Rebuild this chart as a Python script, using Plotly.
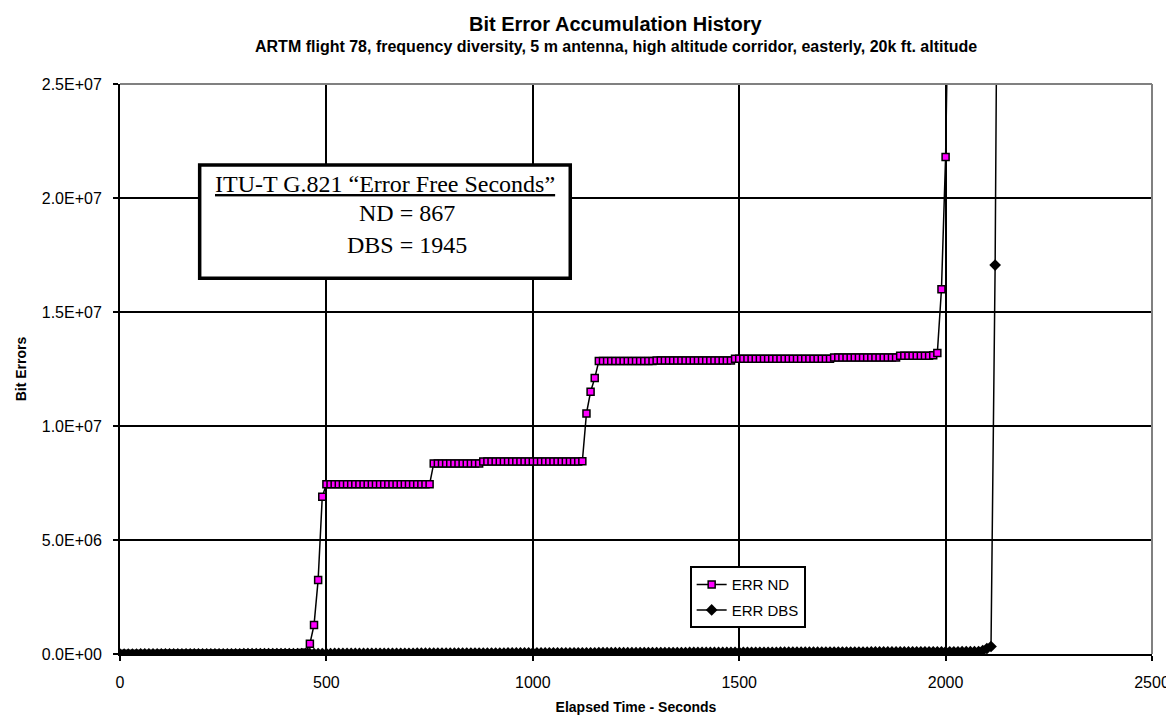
import plotly.graph_objects as go

# elapsed time in seconds (one sample every 10 s)
elapsed = [
    0, 10, 20, 30, 40, 50, 60, 70, 80, 90,
    100, 110, 120, 130, 140, 150, 160, 170, 180, 190,
    200, 210, 220, 230, 240, 250, 260, 270, 280, 290,
    300, 310, 320, 330, 340, 350, 360, 370, 380, 390,
    400, 410, 420, 430, 440, 450, 460, 470, 480, 490,
    500, 510, 520, 530, 540, 550, 560, 570, 580, 590,
    600, 610, 620, 630, 640, 650, 660, 670, 680, 690,
    700, 710, 720, 730, 740, 750, 760, 770, 780, 790,
    800, 810, 820, 830, 840, 850, 860, 870, 880, 890,
    900, 910, 920, 930, 940, 950, 960, 970, 980, 990,
    1000, 1010, 1020, 1030, 1040, 1050, 1060, 1070, 1080, 1090,
    1100, 1110, 1120, 1130, 1140, 1150, 1160, 1170, 1180, 1190,
    1200, 1210, 1220, 1230, 1240, 1250, 1260, 1270, 1280, 1290,
    1300, 1310, 1320, 1330, 1340, 1350, 1360, 1370, 1380, 1390,
    1400, 1410, 1420, 1430, 1440, 1450, 1460, 1470, 1480, 1490,
    1500, 1510, 1520, 1530, 1540, 1550, 1560, 1570, 1580, 1590,
    1600, 1610, 1620, 1630, 1640, 1650, 1660, 1670, 1680, 1690,
    1700, 1710, 1720, 1730, 1740, 1750, 1760, 1770, 1780, 1790,
    1800, 1810, 1820, 1830, 1840, 1850, 1860, 1870, 1880, 1890,
    1900, 1910, 1920, 1930, 1940, 1950, 1960, 1970, 1980, 1990,
    2000, 2010, 2020, 2030, 2040, 2050, 2060, 2070, 2080, 2090,
    2100, 2110, 2120, 2130,
]

# ERR ND - cumulative bit errors (0 .. 2010 s)
err_nd = [
    0, 0, 0, 0, 2000, 2000, 2000, 4000, 4000, 4000,
    6000, 6000, 6000, 6000, 8000, 8000, 8000, 8000, 10000, 10000,
    10000, 12000, 12000, 12000, 14000, 14000, 14000, 16000, 16000, 16000,
    18000, 18000, 18000, 20000, 20000, 22000, 22000, 24000, 24000, 26000,
    28000, 30000, 32000, 35000, 40000, 60000, 450000, 1270000, 3250000, 6900000,
    7450000, 7450000, 7450000, 7450000, 7450000, 7450000, 7450000, 7450000, 7450000, 7450000,
    7450000, 7450000, 7450000, 7450000, 7450000, 7450000, 7450000, 7450000, 7450000, 7450000,
    7450000, 7450000, 7450000, 7450000, 7450000, 7450000, 8360000, 8360000, 8360000, 8360000,
    8360000, 8360000, 8360000, 8360000, 8360000, 8360000, 8360000, 8360000, 8440000, 8440000,
    8440000, 8440000, 8440000, 8440000, 8440000, 8440000, 8440000, 8440000, 8440000, 8440000,
    8440000, 8440000, 8440000, 8440000, 8440000, 8440000, 8440000, 8440000, 8440000, 8440000,
    8440000, 8440000, 8450000, 10550000, 11500000, 12100000, 12850000, 12850000, 12850000, 12850000,
    12850000, 12850000, 12850000, 12850000, 12850000, 12850000, 12850000, 12850000, 12850000, 12850000,
    12870000, 12870000, 12870000, 12870000, 12870000, 12870000, 12870000, 12870000, 12870000, 12870000,
    12870000, 12870000, 12870000, 12870000, 12870000, 12870000, 12870000, 12870000, 12870000, 12950000,
    12950000, 12950000, 12950000, 12950000, 12950000, 12950000, 12950000, 12950000, 12950000, 12950000,
    12950000, 12950000, 12950000, 12950000, 12950000, 12950000, 12950000, 12950000, 12950000, 12950000,
    12950000, 12950000, 12950000, 13000000, 13000000, 13000000, 13000000, 13000000, 13000000, 13000000,
    13000000, 13000000, 13000000, 13000000, 13000000, 13000000, 13000000, 13000000, 13000000, 13080000,
    13080000, 13080000, 13080000, 13080000, 13080000, 13080000, 13080000, 13100000, 13200000, 16000000,
    21800000, 33000000,
]

# ERR DBS - cumulative bit errors (0 .. 2130 s)
err_dbs = [
    0, 0, 0, 1000, 1000, 2000, 2000, 2000, 3000, 3000,
    3000, 4000, 4000, 5000, 5000, 5000, 6000, 6000, 7000, 7000,
    8000, 8000, 9000, 9000, 10000, 10000, 11000, 11000, 12000, 12000,
    13000, 13000, 14000, 14000, 15000, 15000, 16000, 16000, 17000, 17000,
    18000, 18000, 19000, 19000, 20000, 20000, 21000, 21000, 22000, 22000,
    23000, 23000, 24000, 24000, 25000, 25000, 26000, 26000, 27000, 27000,
    28000, 28000, 29000, 29000, 30000, 30000, 31000, 31000, 32000, 32000,
    33000, 33000, 34000, 34000, 35000, 35000, 36000, 36000, 37000, 37000,
    38000, 38000, 39000, 39000, 40000, 40000, 41000, 41000, 42000, 42000,
    43000, 43000, 44000, 44000, 45000, 45000, 46000, 46000, 47000, 47000,
    48000, 48000, 49000, 49000, 50000, 50000, 51000, 51000, 52000, 52000,
    53000, 53000, 54000, 54000, 55000, 55000, 56000, 56000, 57000, 57000,
    58000, 58000, 59000, 59000, 60000, 60000, 61000, 61000, 62000, 62000,
    63000, 63000, 64000, 64000, 65000, 65000, 66000, 66000, 67000, 67000,
    68000, 68000, 69000, 69000, 70000, 70000, 71000, 71000, 72000, 72000,
    73000, 73000, 74000, 74000, 75000, 75000, 76000, 76000, 77000, 77000,
    78000, 78000, 79000, 79000, 80000, 80000, 81000, 81000, 82000, 82000,
    83000, 83000, 84000, 84000, 85000, 85000, 86000, 86000, 87000, 87000,
    88000, 88000, 89000, 89000, 90000, 90000, 91000, 91000, 92000, 92000,
    93000, 93000, 94000, 94000, 95000, 95000, 96000, 96000, 97000, 97000,
    98000, 98000, 99000, 99000, 100000, 100000, 101000, 101000, 110000, 150000,
    240000, 330000, 17060000, 45000000,
]

y_tick_vals = [0, 5e6, 1e7, 1.5e7, 2e7, 2.5e7]
y_tick_labels = ["0.0E+00", "5.0E+06", "1.0E+07", "1.5E+07", "2.0E+07", "2.5E+07"]
x_tick_vals = [0, 500, 1000, 1500, 2000, 2500]

title = "Bit Error Accumulation History"
subtitle = "ARTM flight 78, frequency diversity, 5 m antenna, high altitude corridor, easterly, 20k ft. altitude"
box_lines = ["ITU-T G.821 \u201cError Free Seconds\u201d", "ND = 867", "DBS = 1945"]

SANS = "Liberation Sans, Arial, sans-serif"
SERIF = "Liberation Serif, Times New Roman, serif"

fig = go.Figure()

fig.add_trace(go.Scatter(
    x=elapsed[:len(err_nd)], y=err_nd, name="ERR ND", mode="lines+markers",
    legendgroup="nd",
    line=dict(color="black", width=1.5),
    marker=dict(symbol="square", size=7, color="#FF00FF",
                line=dict(color="black", width=1.5)),
))
fig.add_trace(go.Scatter(
    x=elapsed[:len(err_dbs)], y=err_dbs, name="ERR DBS", mode="lines+markers",
    legendgroup="dbs",
    line=dict(color="black", width=1.5),
    marker=dict(symbol="diamond", size=9, color="black"),
))

# text box with the error free seconds
fig.add_shape(type="rect", xref="paper", yref="paper",
              x0=0.0772, x1=0.4363, y0=0.659, y1=0.858,
              line=dict(color="black", width=3.5), fillcolor="white", layer="above")
fig.add_annotation(x=0.2568, y=0.825, xref="paper", yref="paper", showarrow=False,
                   xanchor="center", yanchor="middle",
                   text="<u>" + box_lines[0] + "</u>",
                   font=dict(family=SERIF, size=24, color="black"))
fig.add_annotation(x=0.278, y=0.7745, xref="paper", yref="paper", showarrow=False,
                   xanchor="center", yanchor="middle",
                   text=box_lines[1], font=dict(family=SERIF, size=24, color="black"))
fig.add_annotation(x=0.278, y=0.717, xref="paper", yref="paper", showarrow=False,
                   xanchor="center", yanchor="middle",
                   text=box_lines[2], font=dict(family=SERIF, size=24, color="black"))

# titles
fig.add_annotation(x=0.4807, y=1.105, xref="paper", yref="paper", showarrow=False,
                   xanchor="center", yanchor="middle",
                   text="<b>" + title + "</b>",
                   font=dict(family=SANS, size=20, color="black"))
fig.add_annotation(x=0.4807, y=1.0664, xref="paper", yref="paper", showarrow=False,
                   xanchor="center", yanchor="middle",
                   text="<b>" + subtitle + "</b>",
                   font=dict(family=SANS, size=16, color="black"))

# gray plot area border at top / right
fig.add_shape(type="line", xref="paper", yref="paper", x0=0, x1=1, y0=1, y1=1,
              line=dict(color="#808080", width=2), layer="above")
fig.add_shape(type="line", xref="paper", yref="paper", x0=1, x1=1, y0=0, y1=1,
              line=dict(color="#808080", width=2), layer="above")

fig.update_layout(
    width=1174, height=717,
    margin=dict(l=112, r=26, t=76, b=69),
    plot_bgcolor="white", paper_bgcolor="white",
    showlegend=True,
    legend=dict(x=0.552, y=0.154, xanchor="left", yanchor="top",
                bgcolor="white", bordercolor="black", borderwidth=2,
                tracegroupgap=3,
                font=dict(family=SANS, size=15, color="black")),
    font=dict(family=SANS, color="black"),
)

fig.update_xaxes(
    range=[0, 2500], tickvals=x_tick_vals,
    showgrid=True, gridcolor="black", gridwidth=2, zeroline=False,
    showline=True, linecolor="black", linewidth=2,
    ticks="outside", ticklen=5, tickwidth=2, tickcolor="black",
    tickfont=dict(family=SANS, size=16, color="black"),
    ticklabelstandoff=8,
    title=dict(text="<b>Elapsed Time - Seconds</b>", font=dict(family=SANS, size=14, color="black"),
               standoff=12),
)
fig.update_yaxes(
    range=[0, 2.5e7], tickvals=y_tick_vals, ticktext=y_tick_labels,
    showgrid=True, gridcolor="black", gridwidth=2, zeroline=False,
    showline=True, linecolor="black", linewidth=2,
    ticks="outside", ticklen=5, tickwidth=2, tickcolor="black",
    tickfont=dict(family=SANS, size=16, color="black"),
    ticklabelstandoff=8,
    title=dict(text="<b>Bit Errors</b>", font=dict(family=SANS, size=14, color="black"),
               standoff=12),
)

fig.write_html("out.html")
